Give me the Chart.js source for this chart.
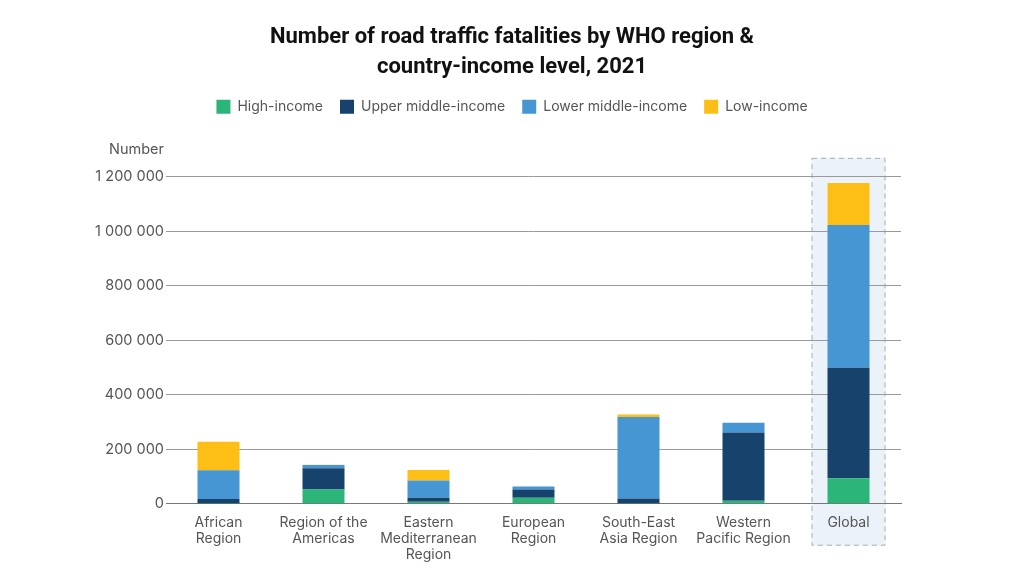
<!DOCTYPE html>
<html>
<head>
<meta charset="utf-8">
<script src="https://cdn.jsdelivr.net/npm/chart.js@4/dist/chart.umd.min.js"></script>
<style>
    html, body { margin: 0; padding: 0; background: #fff; }
    #wrap { width: 1024px; height: 576px; }
</style>
</head>
<body>
<div id="wrap"><canvas id="fatalities_chart" width="1024" height="576"></canvas></div>
<script>
const regions = [
    ["African", "Region"],
    ["Region of the", "Americas"],
    ["Eastern", "Mediterranean", "Region"],
    ["European", "Region"],
    ["South-East", "Asia Region"],
    ["Western", "Pacific Region"],
    "Global"
];
const highIncome = [1000, 52000, 7000, 22000, 500, 11000, 93000];
const upperMiddleIncome = [16000, 78000, 15000, 30000, 19000, 250000, 406000];
const lowerMiddleIncome = [106000, 12000, 63000, 11000, 299000, 36000, 524000];
const lowIncome = [104000, 1000, 39000, 0, 9000, 0, 154000];
const yTicks = [0, 200000, 400000, 600000, 800000, 1000000, 1200000];

const font = "Inter";
const titleFont = "Roboto";

// dashed highlight behind the Global column, plus the "Number" axis caption
const extras = {
    id: "extras",
    beforeInit: function (chart) {
        // leave room between the legend and the plot
        const fit = chart.legend.fit;
        chart.legend.fit = function () {
            fit.bind(chart.legend)();
            this.height += 53;
        };
    },
    beforeDraw: function (chart) {
        const ctx = chart.ctx, x = chart.scales.x, y = chart.scales.y;
        const cx = x.getPixelForValue(regions.length - 1);
        ctx.save();
        ctx.fillStyle = "#ebf2f9";
        ctx.fillRect(cx - 37, y.top - 19, 74, y.bottom - y.top + 61);
        ctx.strokeStyle = "#a9adb2";
        ctx.lineWidth = 1;
        ctx.setLineDash([5, 4]);
        ctx.strokeRect(cx - 36.5, y.top - 18.5, 73, y.bottom - y.top + 60);
        ctx.restore();
    },
    afterDraw: function (chart) {
        const ctx = chart.ctx, y = chart.scales.y;
        ctx.save();
        ctx.font = "14.5px " + font;
        ctx.fillStyle = "#555";
        ctx.textAlign = "right";
        ctx.textBaseline = "middle";
        ctx.fillText("Number", chart.chartArea.left - 2, y.top - 27);
        ctx.restore();
    }
};

new Chart(document.getElementById("fatalities_chart").getContext("2d"), {
    type: "bar",
    data: {
        labels: regions,
        datasets: [
            { label: "High-income", data: highIncome, backgroundColor: "#2bb578" },
            { label: "Upper middle-income", data: upperMiddleIncome, backgroundColor: "#16426c" },
            { label: "Lower middle-income", data: lowerMiddleIncome, backgroundColor: "#4596d2" },
            { label: "Low-income", data: lowIncome, backgroundColor: "#fdbf15" }
        ]
    },
    options: {
        responsive: false,
        animation: false,
        barPercentage: 0.4,
        categoryPercentage: 1,
        layout: { padding: { left: 86, right: 86, top: 6, bottom: 10 } },
        plugins: {
            title: {
                display: true,
                text: ["Number of road traffic fatalities by WHO region &", "country-income level, 2021"],
                color: "#111",
                font: { family: titleFont, size: 22, weight: "bold", lineHeight: 1.36 },
                padding: { top: 17, bottom: 0 }
            },
            legend: {
                labels: {
                    boxWidth: 14,
                    boxHeight: 14,
                    padding: 17,
                    color: "#555",
                    font: { family: font, size: 14 }
                }
            },
            tooltip: { enabled: false }
        },
        scales: {
            x: {
                stacked: true,
                grid: { display: false },
                border: { color: "#777" },
                ticks: { color: "#555", font: { family: font, size: 14, lineHeight: 1.15 }, maxRotation: 0, autoSkip: false }
            },
            y: {
                stacked: true,
                min: 0,
                max: 1200000,
                afterBuildTicks: function (scale) {
                    scale.ticks = yTicks.map(function (v) { return { value: v }; });
                },
                afterFit: function (scale) { scale.width = 80; },
                grid: {
                    color: function (c) { return c.tick && c.tick.value === 0 ? "#777" : "#9a9a9a"; },
                    drawTicks: false
                },
                border: { display: false },
                ticks: {
                    padding: 2,
                    color: "#555",
                    font: { family: font, size: 14.5 },
                    callback: function (v) { return String(v).replace(/\B(?=(\d{3})+(?!\d))/g, " "); }
                }
            },
            // empty axis that only reserves space on the right
            spacer: {
                position: "right",
                display: true,
                grid: { display: false },
                border: { display: false },
                ticks: { display: false },
                afterFit: function (scale) { scale.width = 37; }
            }
        }
    },
    plugins: [extras]
});
</script>
</body>
</html>
